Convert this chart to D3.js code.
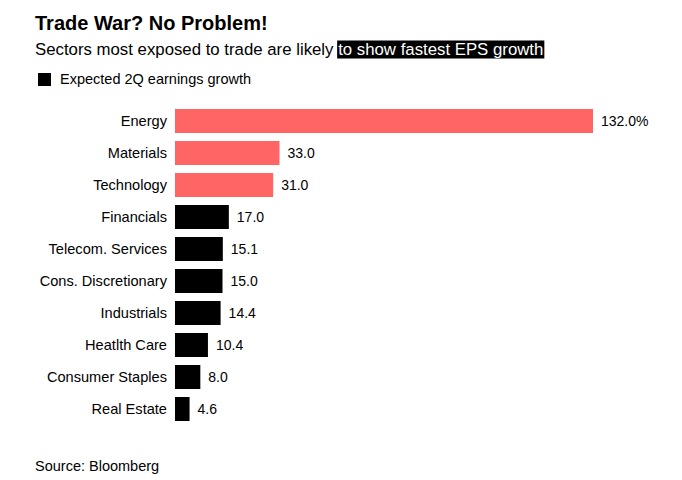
<!DOCTYPE html>
<html><head><meta charset="utf-8">
<script src="https://cdn.jsdelivr.net/npm/d3@7"></script>
<style>body{margin:0;background:#fff;font-family:"Liberation Sans",Arial,sans-serif;}</style>
</head><body>
<svg id="c" width="682" height="480"></svg>
<script>
const categories = ["Energy","Materials","Technology","Financials","Telecom. Services","Cons. Discretionary","Industrials","Heatlth Care","Consumer Staples","Real Estate"];
const values = [132.0,33.0,31.0,17.0,15.1,15.0,14.4,10.4,8.0,4.6];
const valueLabels = ["132.0%","33.0","31.0","17.0","15.1","15.0","14.4","10.4","8.0","4.6"];
const highlighted = ["Energy","Materials","Technology"];

const svg = d3.select("#c");
const left = 175, right = 593;
const x = d3.scaleLinear().domain([0,132]).range([left,right]);
const y = d3.scaleBand().domain(categories).range([105,425]).paddingInner(0.25).paddingOuter(0.125);

svg.append("text").attr("x",35).attr("y",30).attr("font-size",20).attr("font-weight","bold").attr("fill","#000").text("Trade War? No Problem!");
const hlBox = svg.append("rect").attr("fill","#000");
const subPre = "Sectors most exposed to trade are likely ";
const sub = svg.append("text").attr("x",35).attr("y",55).attr("font-size",16.8).attr("fill","#000");
sub.append("tspan").text(subPre);
sub.append("tspan").attr("fill","#fff").text("to show fastest EPS growth");
const sNode = sub.node();
const start = sNode.getSubStringLength(0, subPre.length);
const hlLen = sNode.getComputedTextLength() - start;
hlBox.attr("x",35+start-1).attr("y",40.5).attr("width",hlLen+2).attr("height",18);

svg.append("rect").attr("x",38).attr("y",73).attr("width",13).attr("height",13).attr("fill","#000");
svg.append("text").attr("x",60).attr("y",84).attr("font-size",14.5).attr("fill","#000").text("Expected 2Q earnings growth");

const g = svg.append("g");
g.selectAll("rect").data(categories).join("rect")
  .attr("x",x(0)).attr("y",d=>y(d)).attr("height",y.bandwidth())
  .attr("width",(d,i)=>x(values[i])-x(0))
  .attr("fill",d=>highlighted.includes(d)?"#ff6565":"#000");

const yAxis = d3.axisLeft(y).tickSize(0).tickPadding(8);
const ax = svg.append("g").attr("transform",`translate(${left},0)`).call(yAxis);
ax.select(".domain").remove();
ax.selectAll("text").attr("font-size",14.6).attr("font-family","Liberation Sans, Arial, sans-serif").attr("fill","#000");

g.selectAll("text.v").data(categories).join("text").attr("class","v")
  .attr("x",(d,i)=>x(values[i])+8).attr("y",d=>y(d)+y.bandwidth()/2).attr("dy","0.35em")
  .attr("font-size",14).attr("fill","#000").text((d,i)=>valueLabels[i]);

svg.append("text").attr("x",35).attr("y",471).attr("font-size",14.5).attr("fill","#000").text("Source: Bloomberg");
</script>
</body></html>
